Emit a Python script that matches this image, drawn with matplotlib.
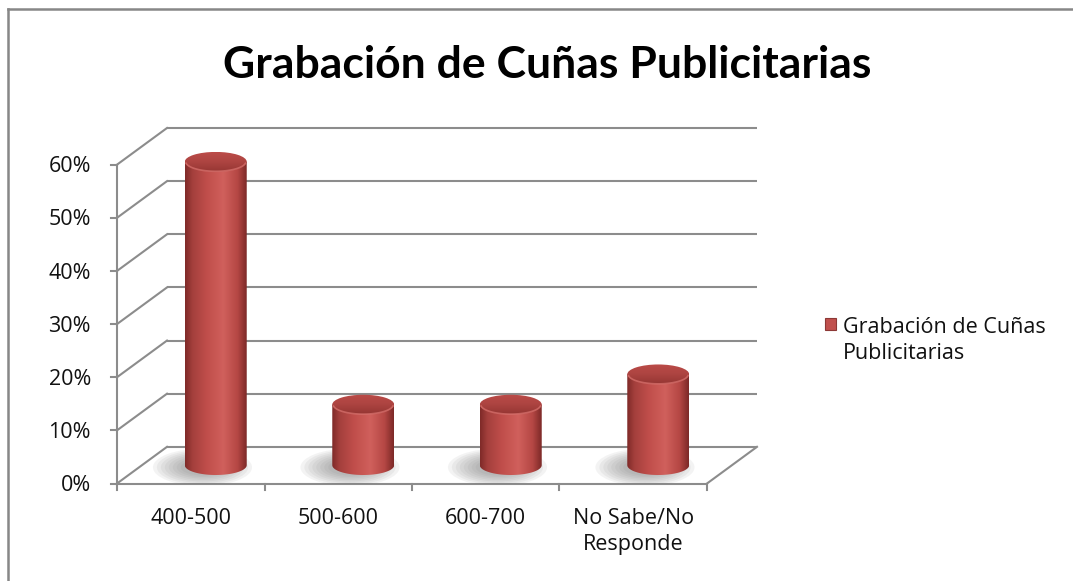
import matplotlib
matplotlib.use('Agg')
from matplotlib import pyplot as plt
from matplotlib.patches import Ellipse, PathPatch, Rectangle
from matplotlib.path import Path
from matplotlib.colors import LinearSegmentedColormap
import numpy as np

plt.rcParams['font.family'] = ['Open Sans', 'DejaVu Sans']

title = 'Grabación de Cuñas Publicitarias'
categories = ['400-500', '500-600', '600-700', 'No Sabe/No\nResponde']
values = [57.1, 11.4, 11.4, 17.1]
y_ticks = [0, 10, 20, 30, 40, 50, 60]
y_labels = ['0%', '10%', '20%', '30%', '40%', '50%', '60%']
series_name = 'Grabación de Cuñas\nPublicitarias'

W, H = 1073, 581
fig = plt.figure(figsize=(W / 100, H / 100), dpi=100)

# depth offset of the 3d box (in data units)
dc = 50 / 147.5
dv = 6.9
ax = fig.add_axes([117 / W, 1 - 483.5 / H, 640 / W, 355.5 / H])
ax.set_axis_off()

grid_col = '#8c8c8c'
txt_col = '#111111'
n = len(categories)

# back wall + side wall gridlines
for v in y_ticks:
    ax.plot([dc, n + dc], [v + dv, v + dv], color=grid_col, lw=1.5, solid_capstyle='butt', clip_on=False)
    ax.plot([0, dc], [v, v + dv], color=grid_col, lw=1.5, clip_on=False)

# floor front and right edges
ax.plot([0, n], [0, 0], color=grid_col, lw=1.5, clip_on=False)
ax.plot([n, n + dc], [0, dv], color=grid_col, lw=1.5, clip_on=False)
# vertical axis
ax.plot([0, 0], [0, y_ticks[-1]], color=grid_col, lw=1.5, clip_on=False)

px_x = 147.5
px_y = 355.5 / (60 + dv)
for v, lab in zip(y_ticks, y_labels):
    ax.plot([-6 / px_x, 0], [v, v], color=grid_col, lw=1.5, clip_on=False)
    ax.text(-26 / px_x, v - 0.4, lab, ha='right', va='center', fontsize=15.5, color=txt_col)

for i in range(n + 1):
    ax.plot([i, i], [0, -6 / px_y], color=grid_col, lw=1.5, clip_on=False)

for i, lab in enumerate(categories):
    ax.text(i + 0.5, -24 / px_y, lab, ha='center', va='top', fontsize=15.5,
            color=txt_col, linespacing=1.35)

# cylinders
body_cmap = LinearSegmentedColormap.from_list('body', [
    (0.0, '#7e2a28'), (0.12, '#a43f3c'), (0.35, '#c04e4b'),
    (0.62, '#d0605c'), (0.85, '#b54744'), (1.0, '#7c2927')])
top_cmap = LinearSegmentedColormap.from_list('top', [
    (0.0, '#953633'), (0.5, '#ad4441'), (1.0, '#bb4b48')])

w = 0.21
eh = 1.85
base = dv / 2
grad = np.linspace(0, 1, 256).reshape(1, -1)
for i, val in enumerate(values):
    xc = i + 0.5 + dc / 2
    top = base + val
    # shadow
    for k in range(8):
        s = 1 - k * 0.08
        ax.add_patch(Ellipse((xc - 0.09, base - 0.4), 2 * w * 1.6 * s, 2 * eh * 1.9 * s,
                             color='#707070', alpha=0.08, lw=0, zorder=2))
    t = np.linspace(np.pi, 2 * np.pi, 60)
    xs = np.concatenate([[xc - w], xc + w * np.cos(t), [xc + w, xc - w]])
    ys = np.concatenate([[top], base + eh * np.sin(t), [top, top]])
    path = Path(np.column_stack([xs, ys]))
    body = PathPatch(path, facecolor='none', edgecolor='none', zorder=3)
    ax.add_patch(body)
    im = ax.imshow(grad, cmap=body_cmap, extent=[xc - w, xc + w, base - eh, top],
                   aspect='auto', zorder=3, interpolation='bilinear')
    im.set_clip_path(body)
    # top cap
    cap = Ellipse((xc, top), 2 * w, 2 * eh, facecolor='none', edgecolor='none', zorder=4)
    ax.add_patch(cap)
    imt = ax.imshow(np.linspace(0, 1, 64).reshape(-1, 1)[::-1], cmap=top_cmap,
                    extent=[xc - w, xc + w, top - eh, top + eh], aspect='auto',
                    zorder=4, interpolation='bilinear')
    imt.set_clip_path(cap)
    tt = np.linspace(np.pi * 1.05, np.pi * 1.95, 40)
    ax.plot(xc + w * 0.97 * np.cos(tt), top + eh * 0.97 * np.sin(tt), color='#d46e6a',
            lw=1.2, alpha=0.8, zorder=5)

ax.set_xlim(0, n + dc)
ax.set_ylim(0, 60 + dv)

# title
fig.text(547 / W, 1 - 78 / H, title, ha='center', va='baseline', fontsize=32,
         fontweight='bold', color='#000000', family=['Lato', 'DejaVu Sans'])

# legend
fig.patches.append(Rectangle((825 / W, 1 - 330 / H), 11 / W, 12 / H, transform=fig.transFigure,
                             facecolor='#c0504d', edgecolor='#8c3836', lw=0.8))
fig.text(843 / W, 1 - 317 / H, series_name, ha='left', va='top', fontsize=15.5,
         color=txt_col, linespacing=1.3)

# chart border (top and left visible)
fig.add_artist(plt.Line2D([8 / W, 1], [1 - 9 / H, 1 - 9 / H], transform=fig.transFigure,
                          color='#878787', lw=1.8))
fig.add_artist(plt.Line2D([8 / W, 8 / W], [0, 1 - 9 / H], transform=fig.transFigure,
                          color='#878787', lw=1.8))

fig.savefig('out.png', dpi=100, facecolor='white')
